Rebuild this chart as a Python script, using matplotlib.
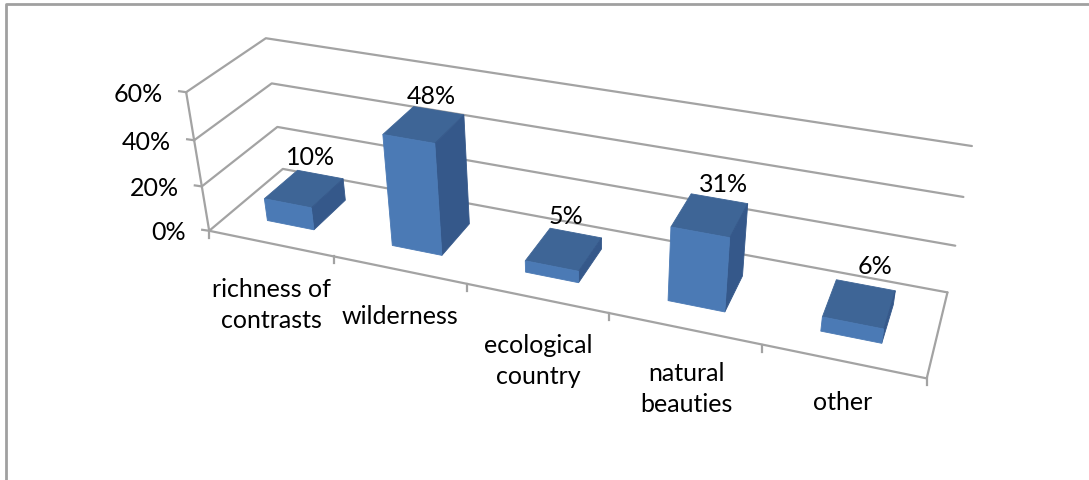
import numpy as np
import matplotlib
matplotlib.use("Agg")
import matplotlib.pyplot as plt

# chart data
categories = ["richness of\ncontrasts", "wilderness", "ecological\ncountry", "natural\nbeauties", "other"]
values = [10, 48, 5, 31, 6]
z_ticks = [0, 20, 40, 60]

# where the category labels sit
label_x = [271, 400, 538, 686, 843]
label_y = [305, 316, 361, 389, 402]
# small nudges for the value labels
nudge_x = [-10, -7, -10, 4, 9]
nudge_y = [1, 3, 1, 3, -1]

GRID = "#a3a3a3"
FRONT = "#4b7ab5"
TOP = "#3e6596"
SIDE = "#35588a"
FS = 18
plt.rcParams["font.family"] = ["Lato", "DejaVu Sans"]

# calibration of the perspective box: (category, depth, percent) -> pixel
calib_world = [
    (0, 0, 0), (0, 0, 20), (0, 0, 40), (0, 0, 60),
    (0, 1, 0), (0, 1, 20), (0, 1, 40), (0, 1, 60),
    (5, 1, 0), (5, 1, 20), (5, 1, 40), (5, 1, 60),
    (5, 0, 0),
]
calib_pix = [
    (209.3, 230.7), (201.7, 186.0), (194.3, 140.0), (186.0, 92.7),
    (282.7, 169.0), (277.3, 127.7), (271.7, 83.3), (266.0, 37.7),
    (947.3, 291.7), (955.7, 245.7), (963.3, 197.7), (971.7, 145.7),
    (926.7, 378.7),
]


def fit_camera(world, pix):
    rows = []
    rhs = []
    for (a, b, c), (u, v) in zip(world, pix):
        rows.append([a, b, c, 1, 0, 0, 0, 0, -u * a, -u * b, -u * c])
        rows.append([0, 0, 0, 0, a, b, c, 1, -v * a, -v * b, -v * c])
        rhs += [u, v]
    sol = np.linalg.lstsq(np.array(rows, float), np.array(rhs, float), rcond=None)[0]
    return np.append(sol, 1).reshape(3, 4)


CAM = fit_camera(calib_world, calib_pix)


def project(x, d, z):
    u, v, w = CAM @ np.array([x, d, z, 1.0])
    return u / w, v / w


def line3(ax, pts, lw=1.6):
    xy = [project(*p) for p in pts]
    ax.plot([q[0] for q in xy], [q[1] for q in xy], color=GRID, lw=lw, solid_capstyle="round", zorder=1)


def face(ax, pts, color):
    xy = [project(*p) for p in pts]
    ax.fill([q[0] for q in xy], [q[1] for q in xy], facecolor=color, edgecolor=color, lw=0.6, zorder=3)


fig = plt.figure(figsize=(10.89, 4.80), dpi=100)
ax = fig.add_axes([0, 0, 1, 1])
ax.set_xlim(0, 1089)
ax.set_ylim(480, 0)
ax.axis("off")

# outer chart border, only top and left show
ax.plot([6, 6, 1089], [480, 4, 4], color="#a0a0a0", lw=2, zorder=1)

n = len(categories)

# walls and gridlines
for z in z_ticks:
    line3(ax, [(0, 0, z), (0, 1, z), (n, 1, z)])
line3(ax, [(0, 0, 0), (0, 0, z_ticks[-1])])
line3(ax, [(0, 0, 0), (n, 0, 0), (n, 1, 0)])

# tick marks, y labels
for z in z_ticks:
    u, v = project(0, 0, z)
    ax.plot([u - 7, u], [v - 1, v], color=GRID, lw=1.6, zorder=1)
    ax.text(u - 23, v + 2, f"{z}%", ha="right", va="center", fontsize=FS, color="black")
for i in range(n + 1):
    u, v = project(i, 0, 0)
    ax.plot([u, u], [v, v + 7], color=GRID, lw=1.6, zorder=1)

# bars
x_gap = 0.31
d0, d1 = 0.27, 0.73
for i, val in enumerate(values):
    xa, xb = i + x_gap, i + 1 - x_gap
    face(ax, [(xa, d0, val), (xb, d0, val), (xb, d1, val), (xa, d1, val)], TOP)
    face(ax, [(xb, d0, 0), (xb, d1, 0), (xb, d1, val), (xb, d0, val)], SIDE)
    face(ax, [(xa, d0, 0), (xb, d0, 0), (xb, d0, val), (xa, d0, val)], FRONT)
    u, v = project(i + 0.5, d1, val)
    ax.text(u + nudge_x[i], v - 6 + nudge_y[i], f"{val}%", ha="center", va="bottom",
            fontsize=FS, color="black", zorder=4)

# category labels
for name, lx, ly in zip(categories, label_x, label_y):
    ax.text(lx, ly, name, ha="center", va="center", fontsize=FS, color="black", linespacing=1.42)

fig.savefig("out.png", dpi=100)
